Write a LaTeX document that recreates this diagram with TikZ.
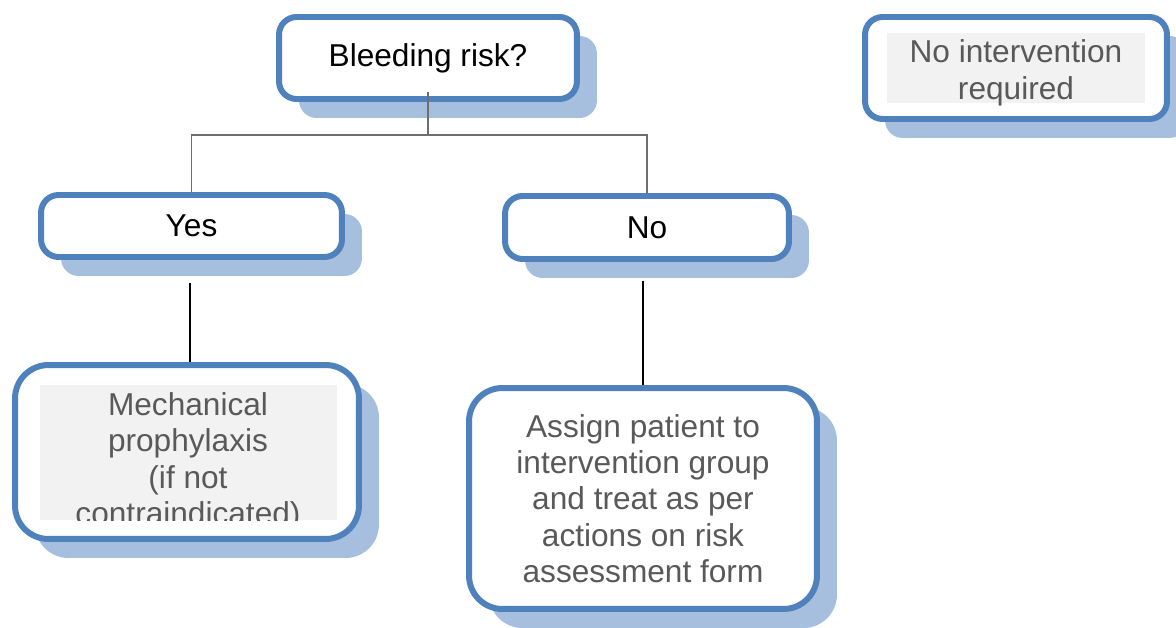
\documentclass[tikz,border=0pt]{standalone}
\usepackage{fontspec}
\setmainfont{Liberation Sans}
\usetikzlibrary{shadows}
\definecolor{boxblue}{HTML}{4F81BD}
\definecolor{shadeblue}{HTML}{A7BFDE}
\definecolor{textgrey}{HTML}{595959}
\definecolor{fillgrey}{HTML}{F2F2F2}
\definecolor{treegrey}{HTML}{6E6E6E}
\tikzset{
  flowbox/.style={draw=boxblue, line width=3.4pt, fill=white, rounded corners=10pt,
    align=center, inner sep=0pt,
    drop shadow={shadow xshift=0.4cm, shadow yshift=-0.38cm, fill=shadeblue, opacity=1}},
  bigbox/.style={flowbox, rounded corners=19pt},
  tree/.style={draw=treegrey, line width=1.1pt},
  link/.style={draw=black, line width=1.1pt},
}
\begin{document}
\begin{tikzpicture}[x=0.02cm, y=-0.02cm, every node/.style={font=\fontsize{18}{20.7}\selectfont}]
            \useasboundingbox (0,0) rectangle (1176,628);
            % boxes
            \node [flowbox, minimum width=5.96cm, minimum height=1.64cm] (risk) at (428,58) {Bleeding risk?};
            \node [flowbox, minimum width=6.04cm, minimum height=2.04cm] (noint) at (1016,68) {};
            \node [flowbox, minimum width=6.02cm, minimum height=1.24cm] (yes) at (191.5,226) {Yes};
            \node [flowbox, minimum width=5.68cm, minimum height=1.26cm] (no) at (647,227.5) {No};
            \node [bigbox, minimum width=6.88cm, minimum height=3.48cm] (mech) at (187,452) {};
            \node [bigbox, text=textgrey, minimum width=6.96cm, minimum height=4.42cm] (assign) at (643,498.5)
                {Assign patient to\\intervention group\\and treat as per\\actions on risk\\assessment form};
            % grey text panels
            \fill [fillgrey] (887,33) rectangle (1145,103);
            \node [text=textgrey, align=center, inner sep=0pt] (nointtext) at (1016,73) {No intervention\\required};
            \begin{scope}
                \clip (40,385) rectangle (337,520);
                \fill [fillgrey] (40,385) rectangle (337,520);
                \node [text=textgrey, align=center, inner sep=0pt, anchor=north] (mechtext) at (188,392)
                    {Mechanical\\prophylaxis\\(if not\\contraindicated)};
            \end{scope}
            % connectors
            \coordinate (split) at (428,135);
            \path [tree] ([yshift=0.2cm]risk.south) edge (split);
            \draw [tree] (yes.north) |- (split) -| (no.north);
            \path [link] ([xshift=-0.03cm]yes.south) edge [shorten <=0.46cm] ([xshift=-0.03cm]yes.south |- mech.north);
            \path [link] (no.south -| assign.north) edge [shorten <=0.38cm] (assign.north);
        \end{tikzpicture}
\end{document}
